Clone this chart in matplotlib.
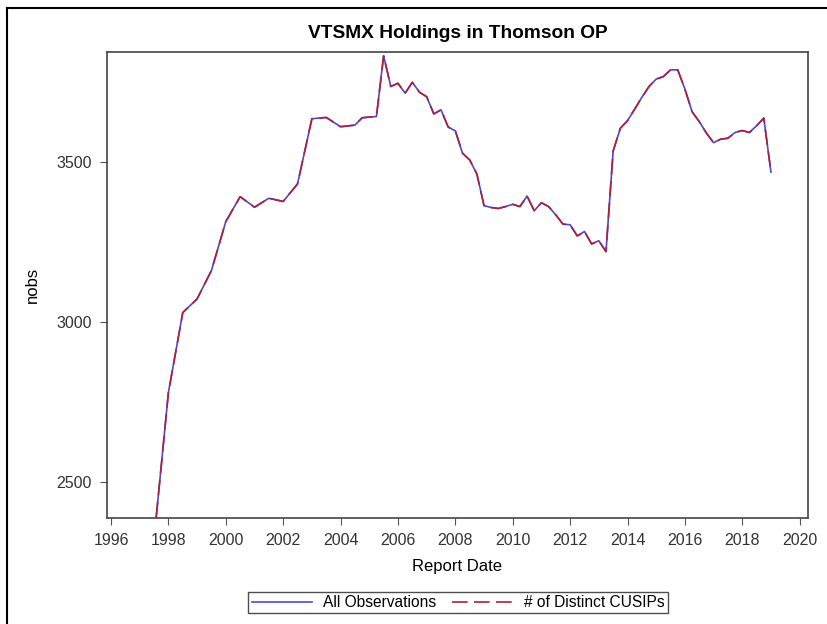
import matplotlib
matplotlib.use('Agg')
import matplotlib.pyplot as plt
from matplotlib.lines import Line2D
import numpy as np

plt.rcParams['font.family'] = ['Liberation Sans', 'DejaVu Sans']

# report dates (decimal years) and number of holdings
dates = [1997.5, 1998.0, 1998.5, 1999.0, 1999.5, 2000.0, 2000.5, 2001.0, 2001.5,
         2002.0, 2002.5, 2003.0, 2003.5, 2004.0, 2004.5, 2004.75, 2005.25, 2005.5,
         2005.75, 2006.0, 2006.25, 2006.5, 2006.75, 2007.0, 2007.25, 2007.5, 2007.75,
         2008.0, 2008.25, 2008.5, 2008.75, 2009.0, 2009.25, 2009.5, 2009.75, 2010.0,
         2010.25, 2010.5, 2010.75, 2011.0, 2011.25, 2011.5, 2011.75, 2012.0, 2012.25,
         2012.5, 2012.75, 2013.0, 2013.25, 2013.5, 2013.75, 2014.0, 2014.25, 2014.5,
         2014.75, 2015.0, 2015.25, 2015.5, 2015.75, 2016.0, 2016.25, 2016.5, 2016.75,
         2017.0, 2017.25, 2017.5, 2017.75, 2018.0, 2018.25, 2018.5, 2018.75, 2019.0]
nobs = [2320, 2779, 3029, 3072, 3161, 3314, 3392, 3359, 3387,
        3377, 3432, 3636, 3640, 3611, 3616, 3639, 3643, 3833,
        3737, 3747, 3716, 3750, 3719, 3705, 3651, 3664, 3610,
        3598, 3528, 3507, 3463, 3364, 3358, 3355, 3361, 3368,
        3361, 3394, 3348, 3373, 3361, 3335, 3306, 3304, 3269,
        3283, 3244, 3254, 3220, 3535, 3606, 3630, 3666, 3703,
        3737, 3760, 3768, 3789, 3789, 3729, 3658, 3627, 3591,
        3561, 3572, 3575, 3593, 3599, 3593, 3614, 3638, 3469]
ncusip = list(nobs)

fig = plt.figure(figsize=(8.27, 6.24), dpi=100)
ax = fig.add_axes([0.1294, 0.1699, 0.977 - 0.1294, 0.9167 - 0.1699])

ax.plot(dates, nobs, color='#4a4ad6', lw=1.2, label='All Observations')
ax.plot(dates, ncusip, color='#b01e3c', lw=1.2, ls=(0, (9.4, 3.8)), label='# of Distinct CUSIPs')

ax.set_xlim(1995.86, 2020.29)
ax.set_ylim(2386, 3845)
ax.set_xticks(range(1996, 2021, 2))
ax.set_yticks([2500, 3000, 3500])
ax.tick_params(labelsize=11.5, length=5, pad=6, color='#555555', labelcolor='#333333')
for s in ax.spines.values():
    s.set_color('#444444')
    s.set_linewidth(1.2)

fig.text(0.5 * (0.1294 + 0.977), 1 - 33 / 624, 'VTSMX Holdings in Thomson OP',
         fontsize=13.75, fontweight='bold', ha='center', va='center')
ax.set_xlabel('Report Date', fontsize=12, va='center')
ax.xaxis.set_label_coords(0.5 * (0.1294 + 0.977), 1 - 566 / 624, transform=fig.transFigure)
ax.set_ylabel('nobs', fontsize=12, va='center')
ax.yaxis.set_label_coords(32 / 827, 1 - 285 / 624, transform=fig.transFigure)

leg = fig.legend(loc='center', bbox_to_anchor=(458 / 827, 1 - 602.5 / 624), ncol=2, fontsize=11.2,
                 frameon=True, fancybox=False, edgecolor='#222222',
                 handlelength=3.9, columnspacing=1.0, borderpad=0.22, handletextpad=0.7)
leg.get_frame().set_linewidth(1.0)

# screenshot frame on the left and top
fig.add_artist(Line2D([6.5 / 827, 6.5 / 827], [0, 1 - 7.5 / 624], transform=fig.transFigure, color='black', lw=1.5))
fig.add_artist(Line2D([6.5 / 827, 1], [1 - 7.5 / 624, 1 - 7.5 / 624], transform=fig.transFigure, color='black', lw=1.5))

plt.savefig('out.png', dpi=100)
